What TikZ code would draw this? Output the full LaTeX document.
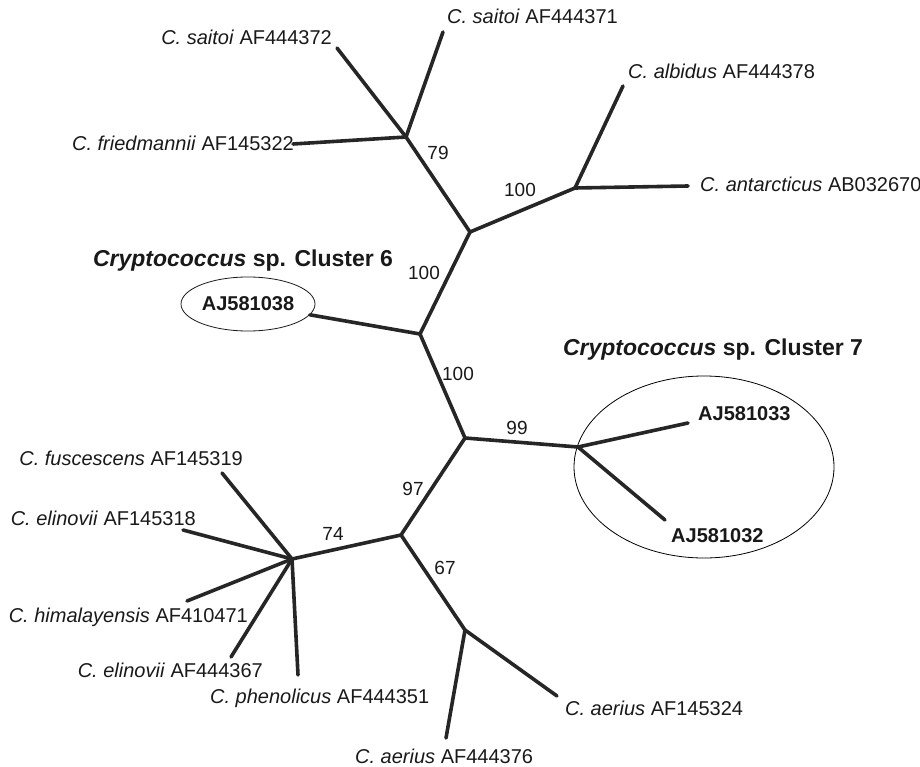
\documentclass[tikz,border=0pt]{standalone}
\usepackage{fontspec}
\setmainfont{Liberation Sans}
\usetikzlibrary{shapes.geometric, positioning}

\tikzset{
  branch/.style={line width=3.6pt, color=black!85, line cap=round, line join=round},
  taxon/.style={font=\fontsize{20}{24}\selectfont, inner sep=0pt, color=black!90},
  boot/.style={font=\fontsize{19}{23}\selectfont, inner sep=0pt, color=black!90},
  strain/.style={font=\fontsize{20}{24}\selectfont\bfseries, inner sep=0pt, color=black!90},
  clade/.style={font=\fontsize{23}{27}\selectfont\bfseries, inner sep=0pt, color=black!90},
  ring/.style={draw, ellipse, line width=0.8pt, inner sep=0pt},
}

\begin{document}
\begin{tikzpicture}[x=1pt, y=-1pt]
    \useasboundingbox (0, 0) rectangle (920, 767);

    % inner nodes of the tree
    \coordinate (nA) at (406, 137);
    \coordinate (nB) at (575, 188);
    \coordinate (nC) at (470, 232);
    \coordinate (nD) at (420, 334);
    \coordinate (nE) at (465, 438);
    \coordinate (nF) at (578, 447);
    \coordinate (nG) at (401, 535);
    \coordinate (nH) at (292, 559);
    \coordinate (nI) at (465, 630);

    % tips
    \coordinate (tSai72) at (337, 48);
    \coordinate (tSai71) at (443, 32);
    \coordinate (tFri) at (293, 144);
    \coordinate (tAlb) at (623, 86);
    \coordinate (tAnt) at (688, 186);
    \coordinate (tJ33) at (688, 423);
    \coordinate (tJ32) at (665, 520);
    \coordinate (tFus) at (222, 473);
    \coordinate (tEli18) at (183, 530);
    \coordinate (tHim) at (187, 601);
    \coordinate (tEli67) at (231, 657);
    \coordinate (tPhe) at (298, 675);
    \coordinate (tAer24) at (557, 696);
    \coordinate (tAer76) at (446, 738);

    % clusters
    \node[ring, minimum width=134pt, minimum height=54pt, strain] (aj38) at (248, 304) {AJ581038};
    \node[ring, minimum width=260pt, minimum height=182pt] (clu7) at (704, 467) {};
    \node[clade, anchor=base] (cl6) at (243, 266) {\textit{Cryptococcus} sp. Cluster 6};
    \node[clade, anchor=base] (cl7) at (713, 355) {\textit{Cryptococcus} sp. Cluster 7};

    % backbone
    \draw[branch] (nA) -- (nC) -- (nB);
    \draw[branch] (nC) -- (nD) -- (nE) -- (nG) -- (nH);
    \draw[branch] (nE) -- (nF);
    \draw[branch] (nG) -- (nI);
    \draw[branch] (nD) -- (aj38);

    % leaves
    \draw[branch] (nA) -- (tSai72);
    \draw[branch] (nA) -- (tSai71);
    \draw[branch] (nA) -- (tFri);
    \draw[branch] (nB) -- (tAlb);
    \draw[branch] (nB) -- (tAnt);
    \draw[branch] (nF) -- (tJ33);
    \draw[branch] (nF) -- (tJ32);
    \foreach \t in {tFus, tEli18, tHim, tEli67, tPhe}
        \draw[branch] (nH) -- (\t);
    \draw[branch] (nI) -- (tAer24);
    \draw[branch] (nI) -- (tAer76);

    % leaf labels
    \node[taxon, anchor=base east] (lSai72) at (332, 45) {\textit{C. saitoi} AF444372};
    \node[taxon, anchor=base west] (lSai71) at (447, 24) {\textit{C. saitoi} AF444371};
    \node[taxon, anchor=base east] (lFri) at (294, 151) {\textit{C. friedmannii} AF145322};
    \node[taxon, anchor=base west] (lAlb) at (628, 79) {\textit{C. albidus} AF444378};
    \node[taxon, anchor=base west] (lAnt) at (700, 192) {\textit{C. antarcticus} AB032670};
    \node[strain, anchor=base west] (lJ33) at (698, 420) {AJ581033};
    \node[strain, anchor=base west] (lJ32) at (671, 542) {AJ581032};
    \node[taxon, anchor=base east] (lFus) at (243, 465) {\textit{C. fuscescens} AF145319};
    \node[taxon, anchor=base east] (lEli18) at (196, 525) {\textit{C. elinovii} AF145318};
    \node[taxon, anchor=base east] (lHim) at (248, 622) {\textit{C. himalayensis} AF410471};
    \node[taxon, anchor=base east] (lEli67) at (263, 677) {\textit{C. elinovii} AF444367};
    \node[taxon, anchor=base west] (lPhe) at (210, 703) {\textit{C. phenolicus} AF444351};
    \node[taxon, anchor=base west] (lAer24) at (565, 715) {\textit{C. aerius} AF145324};
    \node[taxon, anchor=base west] (lAer76) at (355, 763) {\textit{C. aerius} AF444376};

    % bootstrap values
    \node[boot, anchor=base] (bA) at (438, 160) {79};
    \node[boot, anchor=base] (bB) at (520, 197) {100};
    \node[boot, anchor=base] (bC) at (424, 279) {100};
    \node[boot, anchor=base] (bD) at (458, 380) {100};
    \node[boot, anchor=base] (bF) at (517, 434) {99};
    \node[boot, anchor=base] (bE) at (413, 495) {97};
    \node[boot, anchor=base] (bH) at (333, 540) {74};
    \node[boot, anchor=base] (bI) at (445, 574) {67};
\end{tikzpicture}
\end{document}
